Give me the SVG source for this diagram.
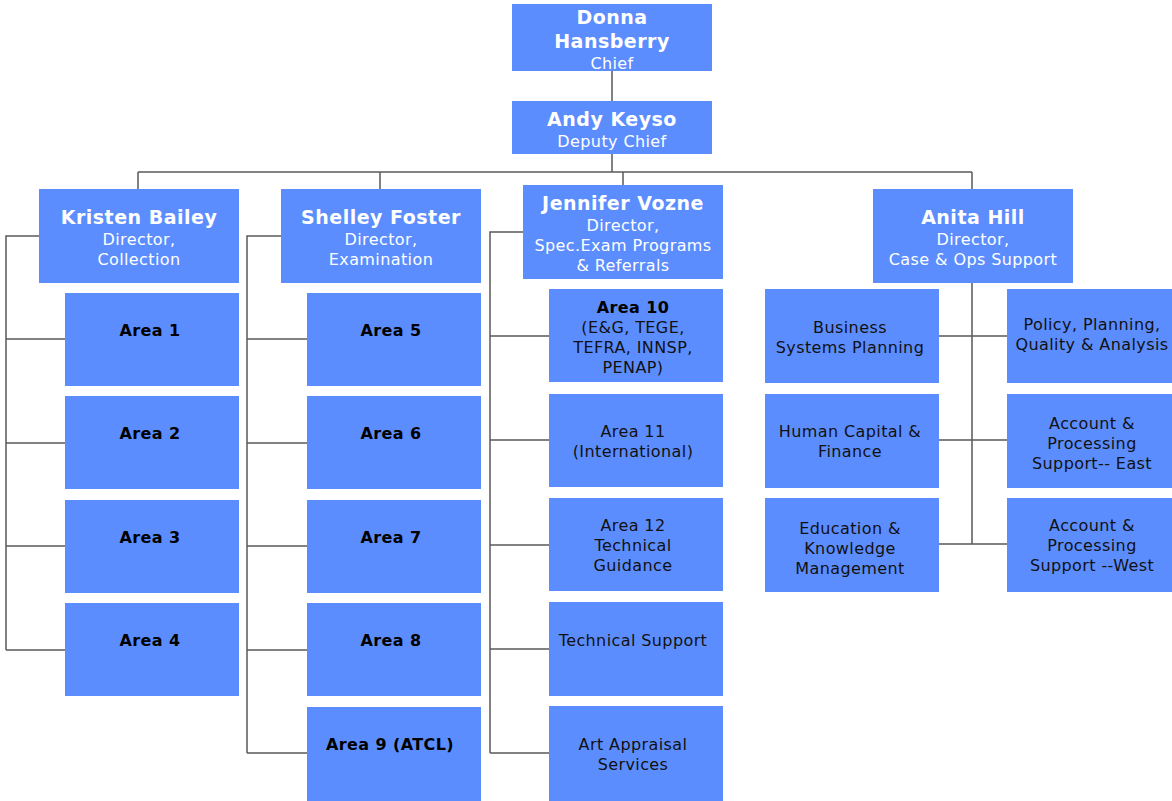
<svg xmlns="http://www.w3.org/2000/svg" width="1172" height="801" viewBox="0 0 1172 801">
<style>
.box{fill:#5c8dfe}
.ln{stroke:#5a5a5a;stroke-width:1.5;fill:none}
text{font-family:"DejaVu Sans",Verdana,sans-serif;text-anchor:middle;dominant-baseline:central}
.nm{font-size:19px;font-weight:bold;fill:#fff;letter-spacing:0.5px}
.st{font-size:16px;fill:#fff;letter-spacing:0.4px}
.ar{font-size:16px;font-weight:bold;fill:#000;letter-spacing:0.4px}
.tx{font-size:16px;fill:#111;letter-spacing:0.4px}
</style>
<rect width="1172" height="801" fill="#fff"/>
<g id="connectors">
<path class="ln" d="M612 71V101M612 154V172M138 172H972M138 172V189M380 172V189M623 172V185M972 172V189"/>
<path class="ln" d="M39 236H6V650M6 339H65M6 443H65M6 546H65M6 650H65"/>
<path class="ln" d="M281 236H247V753M247 339H307M247 443H307M247 546H307M247 650H307M247 753H307"/>
<path class="ln" d="M523 232H490V753M490 336H549M490 440H549M490 545H549M490 649H549M490 753H549"/>
<path class="ln" d="M972 283V544M939 336H1007M939 440H1007M939 544H1007"/>
</g>
<g id="donna"><rect class="box" x="512" y="4" width="200" height="67"/><text class="nm" x="612" y="17">Donna</text><text class="nm" x="612" y="41">Hansberry</text><text class="st" x="612" y="63">Chief</text></g>
<g id="andy"><rect class="box" x="512" y="101" width="200" height="53"/><text class="nm" x="612" y="119">Andy Keyso</text><text class="st" x="612" y="141">Deputy Chief</text></g>
<g id="kristen"><rect class="box" x="39" y="189" width="200" height="94"/><text class="nm" x="139" y="217">Kristen Bailey</text><text class="st" x="139" y="239">Director,</text><text class="st" x="139" y="259">Collection</text></g>
<g id="shelley"><rect class="box" x="281" y="189" width="200" height="94"/><text class="nm" x="381" y="217">Shelley Foster</text><text class="st" x="381" y="239">Director,</text><text class="st" x="381" y="259">Examination</text></g>
<g id="jennifer"><rect class="box" x="523" y="185" width="200" height="94"/><text class="nm" x="623" y="203">Jennifer Vozne</text><text class="st" x="623" y="225">Director,</text><text class="st" x="623" y="245">Spec.Exam Programs</text><text class="st" x="623" y="265">&amp; Referrals</text></g>
<g id="anita"><rect class="box" x="873" y="189" width="200" height="94"/><text class="nm" x="973" y="217">Anita Hill</text><text class="st" x="973" y="239">Director,</text><text class="st" x="973" y="259">Case &amp; Ops Support</text></g>
<g id="area1"><rect class="box" x="65" y="293" width="174" height="93"/><text class="ar" x="150" y="330">Area 1</text></g>
<g id="area2"><rect class="box" x="65" y="396" width="174" height="93"/><text class="ar" x="150" y="433">Area 2</text></g>
<g id="area3"><rect class="box" x="65" y="500" width="174" height="93"/><text class="ar" x="150" y="537">Area 3</text></g>
<g id="area4"><rect class="box" x="65" y="603" width="174" height="93"/><text class="ar" x="150" y="640">Area 4</text></g>
<g id="area5"><rect class="box" x="307" y="293" width="174" height="93"/><text class="ar" x="391" y="330">Area 5</text></g>
<g id="area6"><rect class="box" x="307" y="396" width="174" height="93"/><text class="ar" x="391" y="433">Area 6</text></g>
<g id="area7"><rect class="box" x="307" y="500" width="174" height="93"/><text class="ar" x="391" y="537">Area 7</text></g>
<g id="area8"><rect class="box" x="307" y="603" width="174" height="93"/><text class="ar" x="391" y="640">Area 8</text></g>
<g id="area9"><rect class="box" x="307" y="707" width="174" height="94"/><text class="ar" x="390" y="744">Area 9 (ATCL)</text></g>
<g id="area10"><rect class="box" x="549" y="289" width="174" height="93"/><text class="ar" x="633" y="307">Area 10</text><text class="tx" x="633" y="327">(E&amp;G, TEGE,</text><text class="tx" x="633" y="347">TEFRA, INNSP,</text><text class="tx" x="633" y="367">PENAP)</text></g>
<g id="area11"><rect class="box" x="549" y="394" width="174" height="93"/><text class="tx" x="633" y="431">Area 11</text><text class="tx" x="633" y="451">(International)</text></g>
<g id="area12"><rect class="box" x="549" y="498" width="174" height="93"/><text class="tx" x="633" y="525">Area 12</text><text class="tx" x="633" y="545">Technical</text><text class="tx" x="633" y="565">Guidance</text></g>
<g id="techsupport"><rect class="box" x="549" y="602" width="174" height="94"/><text class="tx" x="633" y="640">Technical Support</text></g>
<g id="artappraisal"><rect class="box" x="549" y="706" width="174" height="95"/><text class="tx" x="633" y="744">Art Appraisal</text><text class="tx" x="633" y="764">Services</text></g>
<g id="business"><rect class="box" x="765" y="289" width="174" height="94"/><text class="tx" x="850" y="327">Business</text><text class="tx" x="850" y="347">Systems Planning</text></g>
<g id="humancapital"><rect class="box" x="765" y="394" width="174" height="94"/><text class="tx" x="850" y="431">Human Capital &amp;</text><text class="tx" x="850" y="451">Finance</text></g>
<g id="education"><rect class="box" x="765" y="498" width="174" height="94"/><text class="tx" x="850" y="528">Education &amp;</text><text class="tx" x="850" y="548">Knowledge</text><text class="tx" x="850" y="568">Management</text></g>
<g id="policy"><rect class="box" x="1007" y="289" width="165" height="94"/><text class="tx" x="1092" y="324">Policy, Planning,</text><text class="tx" x="1092" y="344">Quality &amp; Analysis</text></g>
<g id="accteast"><rect class="box" x="1007" y="394" width="165" height="94"/><text class="tx" x="1092" y="423">Account &amp;</text><text class="tx" x="1092" y="443">Processing</text><text class="tx" x="1092" y="463">Support-- East</text></g>
<g id="acctwest"><rect class="box" x="1007" y="498" width="165" height="94"/><text class="tx" x="1092" y="525">Account &amp;</text><text class="tx" x="1092" y="545">Processing</text><text class="tx" x="1092" y="565">Support --West</text></g>
</svg>
